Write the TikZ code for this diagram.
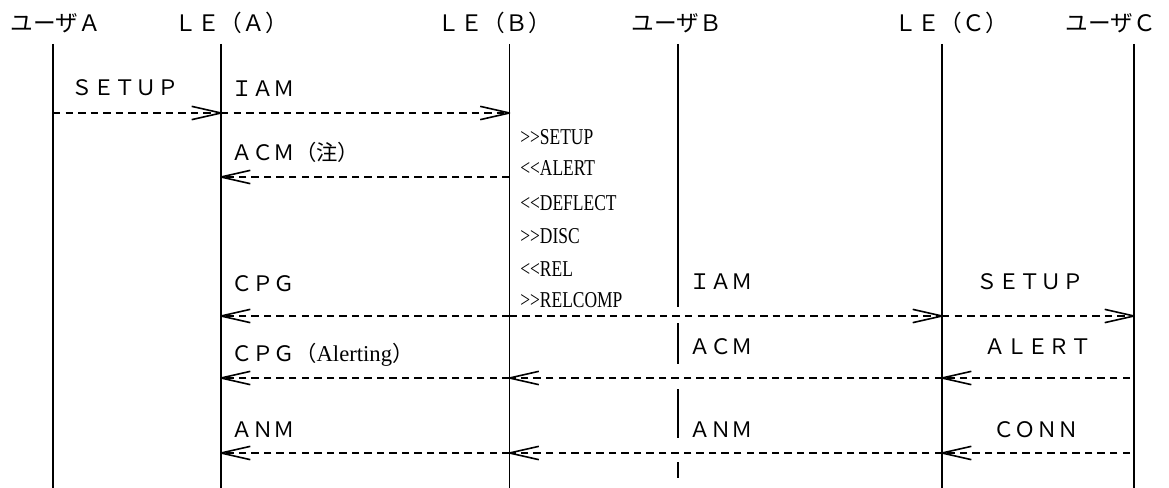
\documentclass[tikz,border=0pt]{standalone}
\usepackage{fontspec}
\setmainfont{Liberation Serif}
\newfontfamily\jp{Noto Sans CJK JP}
\newfontfamily\nar[FakeStretch=0.77]{Liberation Serif}
\usetikzlibrary{arrows.meta}
\pgfdeclarearrow{
  name = OpenV,
  parameters = {\the\pgfarrowlength,\the\pgfarrowwidth},
  setup code = {
    \pgfarrowssettipend{0pt}
    \pgfarrowssetlineend{-\pgflinewidth}
    \pgfarrowsupperhullpoint{-\pgfarrowlength}{0.5\pgfarrowwidth}
    \pgfarrowsupperhullpoint{0pt}{0pt}
    \pgfarrowssavethe\pgfarrowlength
    \pgfarrowssavethe\pgfarrowwidth
  },
  drawing code = {
    \pgfsetdash{}{0pt}
    \pgfsetroundjoin
    \pgfpathmoveto{\pgfqpoint{-\pgfarrowlength}{0.5\pgfarrowwidth}}
    \pgfpathlineto{\pgfpointorigin}
    \pgfpathlineto{\pgfqpoint{-\pgfarrowlength}{-0.5\pgfarrowwidth}}
    \pgfusepathqstroke
  },
  defaults = {length = 22pt, width = 10pt}
}
\begin{document}
\begin{tikzpicture}[x=0.75pt,y=-0.75pt,
  life/.style={line width=1.3pt},
  msg/.style={line width=1.2pt, dash pattern=on 5.6pt off 3.8pt, -{OpenV[length=22pt,width=10pt]}},
  hdr/.style={font=\jp\fontsize{17}{20}\selectfont, anchor=base, inner sep=0pt},
  lbl/.style={font=\jp\fontsize{16}{19}\selectfont, anchor=base west, inner sep=0pt},
  lblc/.style={font=\jp\fontsize{16}{19}\selectfont, anchor=base, inner sep=0pt},
  note/.style={font=\nar\fontsize{17}{20}\selectfont, anchor=west, inner sep=0pt}]
\useasboundingbox (0,0) rectangle (1169,488);
% lifeline coordinates
\foreach \n/\x in {ua/53, la/221, lb/509.5, ub/678, lc/942, uc/1134}{
  \coordinate (\n-top) at (\x,44);
  \coordinate (\n-bot) at (\x,488);
  \foreach \r/\y in {1/113,2/177,3/316,4/378,5/453}{
    \coordinate (\n\r) at (\x,\y);
  }
}
% headers
\node[hdr] (h-ua) at (56,32) {ユーザＡ};
\node[hdr] (h-la) at (231,32) {ＬＥ（Ａ）};
\node[hdr] (h-lb) at (494,32) {ＬＥ（Ｂ）};
\node[hdr] (h-ub) at (677,32) {ユーザＢ};
\node[hdr] (h-lc) at (951,32) {ＬＥ（Ｃ）};
\node[hdr] (h-uc) at (1111,32) {ユーザＣ};
% lifelines
\draw[life] (ua-top) -- (ua-bot);
\draw[life] (la-top) -- (la-bot);
\draw[life] (lb-top) -- (lb-bot);
\draw[life] (lc-top) -- (lc-bot);
\draw[life] (uc-top) -- (uc-bot);
\coordinate (ub-s1) at (678,307);
\coordinate (ub-s2) at (678,323);
\coordinate (ub-s3) at (678,364);
\coordinate (ub-s4) at (678,389);
\coordinate (ub-s5) at (678,438);
\coordinate (ub-s6) at (678,462);
\coordinate (ub-s7) at (678,478);
\draw[life] (ub-top) -- (ub-s1);
\draw[life] (ub-s2) -- (ub-s3);
\draw[life] (ub-s4) -- (ub-s5);
\draw[life] (ub-s6) -- (ub-s7);
% messages
\draw[msg] (ua1) -- (la1);
\draw[msg] (la1) -- (lb1);
\draw[msg] (lb2) -- (la2);
\draw[msg] (lb3) -- (la3);
\draw[msg] (lb3) -- (lc3);
\draw[msg] (lc3) -- (uc3);
\coordinate (uc4s) at (1130,378);
\coordinate (uc5s) at (1130,453);
\draw[msg] (uc4s) -- (lc4);
\draw[msg] (lc4) -- (lb4);
\draw[msg] (lb4) -- (la4);
\draw[msg] (uc5s) -- (lc5);
\draw[msg] (lc5) -- (lb5);
\draw[msg] (lb5) -- (la5);
% labels
\node[lblc] (l-setup1) at (125,96) {ＳＥＴＵＰ};
\node[lbl] (l-iam1) at (231,97) {ＩＡＭ};
\node[lbl] (l-acm1) at (231,161) {ＡＣＭ（注）};
\node[lbl] (l-cpg) at (231,291) {ＣＰＧ};
\node[lbl] (l-iam2) at (689,289) {ＩＡＭ};
\node[lblc] (l-setup2) at (1030,289) {ＳＥＴＵＰ};
\node[lbl] (l-cpga) at (231,361) {ＣＰＧ（{\fontspec{Liberation Serif}\fontsize{17}{20}\selectfont Alerting}）};
\node[lbl] (l-acm2) at (689,354) {ＡＣＭ};
\node[lblc] (l-alert) at (1038,354) {ＡＬＥＲＴ};
\node[lbl] (l-anm1) at (231,437) {ＡＮＭ};
\node[lbl] (l-anm2) at (689,437) {ＡＮＭ};
\node[lblc] (l-conn) at (1036,437) {ＣＯＮＮ};
% notes
\node[note] (n1) at (520,137) {>{}>SETUP};
\node[note] (n2) at (520,168) {<{}<ALERT};
\node[note] (n3) at (520,203) {<{}<DEFLECT};
\node[note] (n4) at (520,236) {>{}>DISC};
\node[note] (n5) at (520,269) {<{}<REL};
\node[note] (n6) at (520,300) {>{}>RELCOMP};
\end{tikzpicture}
\end{document}
